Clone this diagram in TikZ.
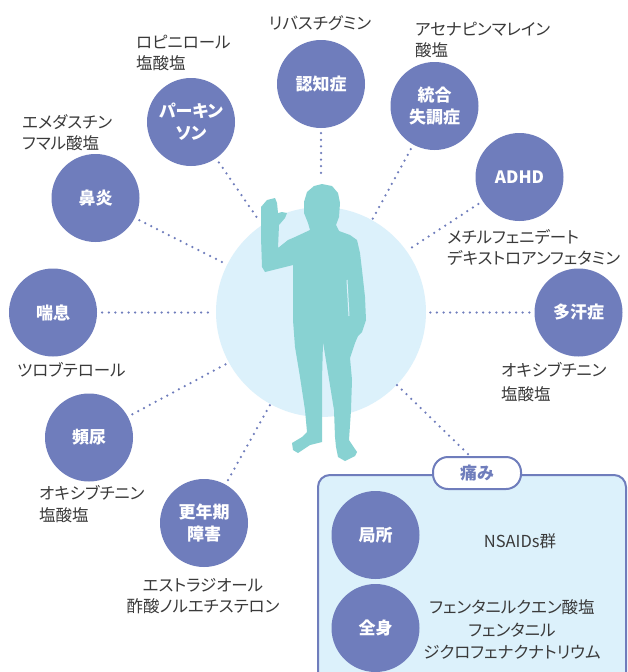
\documentclass[tikz,border=0pt]{standalone}
\usepackage{fontspec}
\setmainfont[RawFeature=+palt]{Noto Sans CJK JP}
\definecolor{pur}{HTML}{6F7DBC}
\definecolor{sky}{HTML}{DCF1FB}
\definecolor{figteal}{HTML}{88D2D2}
\definecolor{ink}{HTML}{3A3A3A}
\tikzset{
  disease/.style={circle, fill=pur, minimum size=88pt, inner sep=0pt, text=white,
    font=\fontsize{17}{22}\selectfont\bfseries, align=center},
  drug/.style={text=ink, inner sep=0pt, font=\fontsize{16.5}{21}\selectfont},
  dotline/.style={pur, line width=2.5pt, line cap=round,
    dash pattern=on 0pt off 6.6pt, shorten <=5pt},
}
\begin{document}
\begin{tikzpicture}[x=1pt, y=-1pt]
\clip (0,0) rectangle (627,672);
\fill[white] (0,0) rectangle (627,672);

% central disc and silhouette
\node[circle, fill=sky, minimum size=210pt, inner sep=0pt] (body) at (321,312) {};
\fill[figteal] (322,184) -- (332,186) -- (338,193) -- (340,203) -- (339,217) -- (336,225)
  -- (339,231) -- (350,235) -- (357,240) -- (360,253) -- (362,270) -- (365,297)
  -- (366,320) -- (362,332) -- (358,336) -- (355,343) -- (350,358) -- (352,380)
  -- (351,410) -- (349,440) -- (357,452) -- (355,456) -- (345,461) -- (338,457)
  -- (336,447) -- (335,437) -- (334,410) -- (323,342) -- (322,380) -- (322,442)
  -- (310,445) -- (298,453) -- (293,450) -- (292,443) -- (302,437) -- (307,432)
  -- (305,410) -- (300,377) -- (295,347) -- (293,320) -- (293,265) -- (265,272)
  -- (262,267) -- (261,237) -- (261,207) -- (267,200) -- (275,198) -- (277,203)
  -- (278,213) -- (282,212) -- (287,213) -- (285,218) -- (279,225) -- (278,248)
  -- (288,240) -- (295,237) -- (310,230) -- (308,223) -- (304,213) -- (304,202)
  -- (307,192) -- (314,186) -- cycle;
\draw[sky, line width=1pt] (347,280) -- (349,316);

% disease circles
\node[disease] (nin)  at (321,84)     {認知症};
\node[disease] (tog)  at (434.5,106)  {統合\\失調症};
\node[disease] (adhd) at (519.5,177)  {ADHD};
\node[disease] (park) at (191,122)    {パーキン\\ソン};
\node[disease] (bien) at (95.5,198)   {鼻炎};
\node[disease] (zen)  at (53,312.5)   {喘息};
\node[disease] (hin)  at (89,437.5)   {頻尿};
\node[disease] (kou)  at (204,523)    {更年期\\障害};
\node[disease] (tak)  at (578.5,312.5){多汗症};

% ends of the connectors
\coordinate (e1) at (321,178);
\coordinate (e2) at (372,220);
\coordinate (e3) at (408,250);
\coordinate (e4) at (260,222);
\coordinate (e5) at (224,263);
\coordinate (e6) at (212,312.5);
\coordinate (e7) at (228,363);
\coordinate (e8) at (270,405);
\coordinate (e9) at (428,312.5);
\coordinate (e10) at (397,385);

\draw[dotline] (nin)  -- (e1);
\draw[dotline] (tog)  -- (e2);
\draw[dotline] (adhd) -- (e3);
\draw[dotline] (park) -- (e4);
\draw[dotline] (bien) -- (e5);
\draw[dotline] (zen)  -- (e6);
\draw[dotline] (hin)  -- (e7);
\draw[dotline] (kou)  -- (e8);
\draw[dotline] (tak)  -- (e9);

% pain panel
\node[draw=pur, line width=2pt, fill=sky, rounded corners=12pt, anchor=north west,
  minimum width=308pt, minimum height=240pt, inner sep=0pt] (painbox) at (317,474) {};
\node[draw=pur, line width=2pt, fill=white, rounded corners=15pt, minimum width=88pt,
  minimum height=32pt, inner sep=0pt, text=pur,
  font=\fontsize{17}{20}\selectfont\bfseries] (tag) at (477,473) {痛み};
\draw[dotline, shorten <=0pt] (e10) -- ([xshift=-7pt]tag.north);

\node[disease] (kyo) at (375.5,535) {局所};
\node[disease] (zsh) at (375.5,628) {全身};

% drug names
\node[drug] (d1) at (320,23) {リバスチグミン};
\node[drug, anchor=west, align=left] (d2) at (136,52.5) {ロピニロール\\塩酸塩};
\node[drug, anchor=west, align=left] (d3) at (22,133) {エメダスチン\\フマル酸塩};
\node[drug, anchor=west, align=left] (d4) at (415,40) {アセナピンマレイン\\酸塩};
\node[drug, anchor=west, align=left] (d5) at (447,247.5) {メチルフェニデート\\デキストロアンフェタミン};
\node[drug, anchor=west] (d6) at (17,370) {ツロブテロール};
\node[drug, anchor=west, align=left, font=\fontsize{16.5}{22}\selectfont] (d7) at (39,504) {オキシブチニン\\塩酸塩};
\node[drug, align=center] (d8) at (203,596.5) {エストラジオール\\酢酸ノルエチステロン};
\node[drug, anchor=west, align=left, font=\fontsize{16.5}{24}\selectfont] (d9) at (501,382.5) {オキシブチニン\\塩酸塩};
\node[drug] (d10) at (520,541) {NSAIDs群};
\node[drug, align=center, font=\fontsize{16.5}{22.5}\selectfont] (d11) at (512,629.5) {フェンタニルクエン酸塩\\フェンタニル\\ジクロフェナクナトリウム};
\end{tikzpicture}
\end{document}
